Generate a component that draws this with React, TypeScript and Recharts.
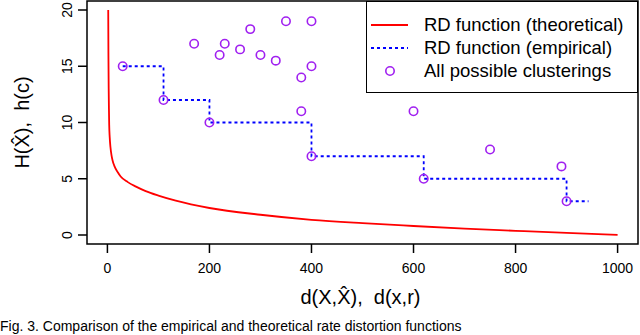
import React from "react";
import {
  ComposedChart,
  Line,
  Scatter,
  XAxis,
  YAxis,
  ReferenceArea,
} from "recharts";

const FONT = '"Liberation Sans", Arial, Helvetica, sans-serif';

// theoretical RD function
const theoryD = [1.6, 2, 2.5, 3, 3.5, 4.5, 6, 8, 10, 14, 20, 26, 40, 56, 75, 100, 134, 200, 300, 400, 500, 600, 700, 800, 900, 1000];
const theoryH = [20, 16, 13, 11.2, 9.8, 8.7, 7.8, 7.1, 6.65, 6.1, 5.6, 5.2, 4.7, 4.3, 3.9, 3.5, 3.05, 2.4, 1.8, 1.35, 1.05, 0.8, 0.57, 0.37, 0.18, 0.02];

// empirical RD function (step)
const empD = [30, 110, 200, 400, 620, 900, 943];
const empH = [15, 12, 10, 7, 5, 3, 3];

// all possible clusterings
const clustD = [30, 110, 200, 170, 220, 230, 260, 280, 300, 330, 350, 400, 380, 400, 380, 400, 600, 750, 890, 620, 900];
const clustH = [15, 12, 10, 17, 16, 17, 16.5, 18.3, 16, 15.5, 19, 19, 14, 15, 11, 7, 11, 7.6, 6.1, 5, 3];

const xTicks = [0, 200, 400, 600, 800, 1000];
const yTicks = [0, 5, 10, 15, 20];

const legendLabels = ["RD function (theoretical)", "RD function (empirical)", "All possible clusterings"];

const theory = theoryD.map((d, i) => ({ d, h: theoryH[i] }));
const empirical = empD.map((d, i) => ({ d, h: empH[i] }));
const clusterings = clustD.map((d, i) => ({ d, h: clustH[i] }));

const NB = "\u00a0";

const YTick = (props: any) => {
  const { x, y, payload } = props;
  return (
    <text
      x={x}
      y={y}
      transform={`rotate(-90 ${x} ${y})`}
      textAnchor="middle"
      fontSize={14}
      fontFamily={FONT}
      fill="#000"
    >
      {payload.value}
    </text>
  );
};

const LegendBox = () => (
  <div
    style={{
      position: "absolute",
      left: 366,
      top: 1,
      width: 270,
      height: 90,
      border: "1.5px solid #000",
      background: "#fff",
      fontFamily: FONT,
      fontSize: 18.5,
      color: "#000",
    }}
  >
    {legendLabels.map((label, i) => (
      <div
        key={label}
        style={{ position: "absolute", left: 0, top: 12 + i * 23, height: 22, display: "flex", alignItems: "center" }}
      >
        <svg width={56} height={22} style={{ display: "block" }}>
          {i === 0 && <line x1={4} x2={41} y1={11} y2={11} stroke="#FF0000" strokeWidth={1.8} />}
          {i === 1 && (
            <line x1={4} x2={41} y1={11} y2={11} stroke="#0000FF" strokeWidth={1.8} strokeDasharray="3 3" />
          )}
          {i === 2 && <circle cx={23} cy={11} r={4.2} fill="none" stroke="#A020F0" strokeWidth={1.6} />}
        </svg>
        <span style={{ marginLeft: 1, whiteSpace: "nowrap" }}>{label}</span>
      </div>
    ))}
  </div>
);

export default function App() {
  return (
    <div style={{ position: "absolute", left: 0, top: 0, width: 640, height: 335, background: "#fff", overflow: "hidden" }}>
      <ComposedChart width={640} height={335} margin={{ top: 1, right: 2, bottom: 0, left: 0 }}>
        <XAxis
          dataKey="d"
          type="number"
          domain={[-40, 1040]}
          ticks={xTicks}
          allowDataOverflow
          axisLine={false}
          tickLine={{ stroke: "#000", strokeWidth: 1.5 }}
          tickSize={9}
          tickMargin={10}
          height={91}
          tick={{ fill: "#000", fontSize: 14, fontFamily: FONT }}
          label={{
            content: (p: any) => {
              const vb = p.viewBox || {};
              return (
                <text
                  x={vb.x + vb.width / 2 - 2}
                  y={vb.y + 60}
                  textAnchor="middle"
                  fontSize={20}
                  fontFamily={FONT}
                  fill="#000"
                >
                  {`d(X,X\u0302),${NB}${NB}d(x,r)`}
                </text>
              );
            },
          }}
        />
        <YAxis
          dataKey="h"
          type="number"
          domain={[-0.8, 20.8]}
          ticks={yTicks}
          allowDataOverflow
          axisLine={false}
          tickLine={{ stroke: "#000", strokeWidth: 1.5 }}
          tickSize={9}
          tickMargin={6}
          width={87}
          tick={<YTick />}
          label={{
            content: (p: any) => {
              const vb = p.viewBox || {};
              const cx = 29;
              const cy = vb.y + vb.height / 2;
              return (
                <text
                  x={cx}
                  y={cy}
                  transform={`rotate(-90 ${cx} ${cy})`}
                  textAnchor="middle"
                  fontSize={20}
                  fontFamily={FONT}
                  fill="#000"
                >
                  {`H(X\u0302),${NB}${NB}h(c)`}
                </text>
              );
            },
          }}
        />
        <ReferenceArea
          x1={-40}
          x2={1040}
          y1={-0.8}
          y2={20.8}
          fill="none"
          fillOpacity={0}
          stroke="#000"
          strokeWidth={1.5}
          ifOverflow="visible"
        />
        <Line
          data={theory}
          dataKey="h"
          type="monotone"
          stroke="#FF0000"
          strokeWidth={1.8}
          dot={false}
          activeDot={false}
          isAnimationActive={false}
        />
        <Line
          data={empirical}
          dataKey="h"
          type="stepAfter"
          stroke="#0000FF"
          strokeWidth={1.8}
          strokeDasharray="3 3"
          dot={false}
          activeDot={false}
          isAnimationActive={false}
        />
        <Scatter
          data={clusterings}
          dataKey="h"
          isAnimationActive={false}
          shape={(p: any) => (
            <circle cx={p.cx} cy={p.cy} r={4.2} fill="none" stroke="#A020F0" strokeWidth={1.6} />
          )}
        />
      </ComposedChart>
      <LegendBox />
      <div
        style={{
          position: "absolute",
          left: 0,
          top: 318,
          fontFamily: FONT,
          fontSize: 14,
          lineHeight: "16px",
          whiteSpace: "nowrap",
          color: "#000",
        }}
      >
        Fig. 3. Comparison of the empirical and theoretical rate distortion functions
      </div>
    </div>
  );
}
